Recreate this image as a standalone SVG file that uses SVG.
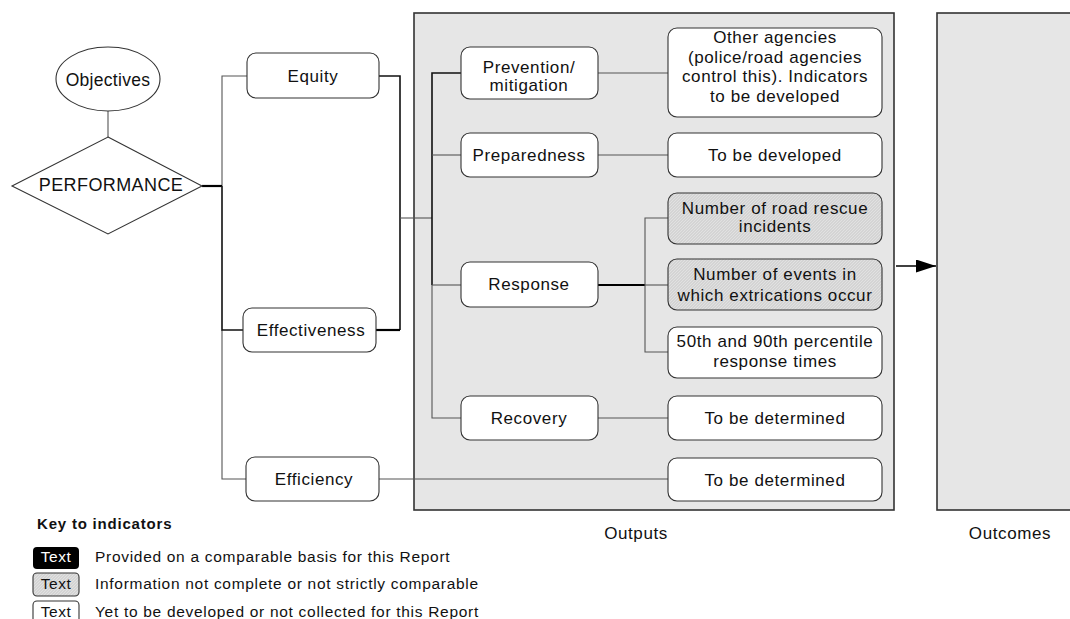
<svg xmlns="http://www.w3.org/2000/svg" width="1070" height="619" viewBox="0 0 1070 619">
  <defs>
    <pattern id="hatch" patternUnits="userSpaceOnUse" width="3" height="3">
      <rect width="3" height="3" fill="#d4d4d4"/>
      <path d="M0,3 L3,0" stroke="#e4e4e4" stroke-width="0.8"/>
    </pattern>
    <marker id="arrow" markerUnits="userSpaceOnUse" markerWidth="21" markerHeight="14" refX="20" refY="6.5" orient="auto">
      <path d="M0,0 L20,6.5 L0,13 z" fill="#000"/>
    </marker>
    <style>
      text { font-family: "Liberation Sans", Arial, sans-serif; fill: #111; }
      .n { font-size: 17px; letter-spacing: 0.6px; text-anchor: middle; }
      .big { font-size: 18px; letter-spacing: 0.4px; text-anchor: middle; }
      .key { font-size: 15.5px; letter-spacing: 0.7px; }
      .keyh { font-size: 15px; font-weight: bold; letter-spacing: 0.8px; }
      .kt { font-size: 15.5px; letter-spacing: 0.5px; text-anchor: middle; }
      .box { fill: #fff; stroke: #333; stroke-width: 1.1; }
      .grey { fill: url(#hatch); stroke: #333; stroke-width: 1.1; }
      .panel { fill: #e6e6e6; stroke: #333; stroke-width: 1.6; }
      .c { fill: none; stroke: #555; stroke-width: 1.1; }
      .cd { fill: none; stroke: #111; stroke-width: 1.6; }
      .ct { fill: none; stroke: #000; stroke-width: 2.2; }
    </style>
  </defs>

  <rect width="1070" height="619" fill="#fff"/>

  <!-- background panels -->
  <g id="outputs-panel">
    <rect class="panel" x="414" y="13" width="480" height="497"/>
    <text class="n" x="636" y="539">Outputs</text>
  </g>
  <g id="outcomes-panel">
    <rect class="panel" x="937" y="13" width="140" height="497"/>
    <text class="n" x="1010" y="539">Outcomes</text>
  </g>

  <!-- connectors -->
  <g id="connectors">
    <!-- objectives to performance -->
    <path class="c" d="M108,111 V137"/>
    <!-- performance to the three dimensions -->
    <path class="c" d="M222,186 V76 H247"/>
    <path class="c" d="M222,330 V479 H246"/>
    <path class="ct" d="M202,186 H222"/>
    <path class="cd" d="M222,186 V330 H243"/>
    <!-- equity / effectiveness to service stages -->
    <path class="cd" d="M379,76 H400 V330"/>
    <path class="ct" d="M376,330 H400"/>
    <path class="c" d="M400,218 H432"/>
    <!-- service stage bus -->
    <path class="cd" d="M461,73 H432 V285"/>
    <path class="c" d="M432,285 V418 H461"/>
    <path class="c" d="M432,155 H461"/>
    <path class="c" d="M432,285 H461"/>
    <!-- stages to indicators -->
    <path class="c" d="M598,73 H668"/>
    <path class="c" d="M598,155 H668"/>
    <path class="c" d="M598,418 H668"/>
    <path class="ct" d="M598,285 H645"/>
    <path class="c" d="M668,218 H645 V352 H668"/>
    <path class="c" d="M645,285 H668"/>
    <!-- efficiency indicator -->
    <path class="c" d="M379,479 H668"/>
    <!-- outputs lead to outcomes -->
    <path d="M896,266 H936" stroke="#000" stroke-width="1.3" marker-end="url(#arrow)"/>
  </g>

  <!-- left side -->
  <g id="objectives">
    <ellipse class="box" cx="108" cy="79" rx="52" ry="32"/>
    <text class="n" x="108" y="86" style="font-size:17.5px;letter-spacing:0.3px">Objectives</text>
  </g>
  <g id="performance">
    <polygon class="box" points="108,137 202,186 108,234 12,186"/>
    <text class="big" x="111" y="191">PERFORMANCE</text>
  </g>
  <g id="equity">
    <rect class="box" x="247" y="53" width="132" height="45" rx="9"/>
    <text class="n" x="313" y="82">Equity</text>
  </g>
  <g id="effectiveness">
    <rect class="box" x="243" y="308" width="133" height="44" rx="9"/>
    <text class="n" x="311" y="336">Effectiveness</text>
  </g>
  <g id="efficiency">
    <rect class="box" x="246" y="457" width="133" height="44" rx="9"/>
    <text class="n" x="314" y="485">Efficiency</text>
  </g>

  <!-- service stages -->
  <g id="prevention">
    <rect class="box" x="461" y="47" width="137" height="52" rx="9"/>
    <text class="n" x="529" y="73">Prevention/</text>
    <text class="n" x="529" y="91">mitigation</text>
  </g>
  <g id="preparedness">
    <rect class="box" x="461" y="133" width="137" height="44" rx="9"/>
    <text class="n" x="529" y="161">Preparedness</text>
  </g>
  <g id="response">
    <rect class="box" x="461" y="262" width="137" height="45" rx="9"/>
    <text class="n" x="529" y="290">Response</text>
  </g>
  <g id="recovery">
    <rect class="box" x="461" y="396" width="137" height="44" rx="9"/>
    <text class="n" x="529" y="424">Recovery</text>
  </g>

  <!-- indicators -->
  <g id="ind-prevention">
    <rect class="box" x="668" y="28" width="214" height="89" rx="9"/>
    <text class="n" x="775" y="43">Other agencies</text>
    <text class="n" x="775" y="62.5">(police/road agencies</text>
    <text class="n" x="775" y="82">control this). Indicators</text>
    <text class="n" x="775" y="101.5">to be developed</text>
  </g>
  <g id="ind-preparedness">
    <rect class="box" x="668" y="133" width="214" height="44" rx="9"/>
    <text class="n" x="775" y="161">To be developed</text>
  </g>
  <g id="ind-incidents">
    <rect class="grey" x="668" y="193" width="214" height="51" rx="9"/>
    <text class="n" x="775" y="214">Number of road rescue</text>
    <text class="n" x="775" y="232">incidents</text>
  </g>
  <g id="ind-extrications">
    <rect class="grey" x="668" y="259" width="214" height="51" rx="9"/>
    <text class="n" x="775" y="280">Number of events in</text>
    <text class="n" x="775" y="301">which extrications occur</text>
  </g>
  <g id="ind-response-times">
    <rect class="box" x="668" y="327" width="214" height="51" rx="9"/>
    <text class="n" x="775" y="347">50th and 90th percentile</text>
    <text class="n" x="775" y="367">response times</text>
  </g>
  <g id="ind-recovery">
    <rect class="box" x="668" y="396" width="214" height="44" rx="9"/>
    <text class="n" x="775" y="424">To be determined</text>
  </g>
  <g id="ind-efficiency">
    <rect class="box" x="668" y="458" width="214" height="43" rx="9"/>
    <text class="n" x="775" y="486">To be determined</text>
  </g>

  <!-- legend -->
  <g id="legend">
    <text class="keyh" x="37" y="529">Key to indicators</text>
    <rect x="33" y="547" width="46" height="22" rx="4" fill="#000"/>
    <text class="kt" x="56" y="562" style="fill:#fff">Text</text>
    <text class="key" x="95" y="562">Provided on a comparable basis for this Report</text>
    <rect class="grey" x="33" y="573" width="46" height="23" rx="4"/>
    <text class="kt" x="56" y="589">Text</text>
    <text class="key" x="95" y="589">Information not complete or not strictly comparable</text>
    <rect class="box" x="33" y="601" width="46" height="24" rx="4"/>
    <text class="kt" x="56" y="617">Text</text>
    <text class="key" x="95" y="617">Yet to be developed or not collected for this Report</text>
  </g>
</svg>
